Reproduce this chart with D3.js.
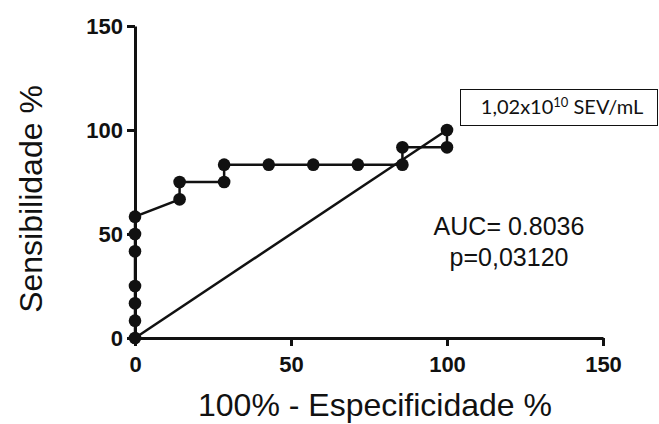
<!DOCTYPE html>
<html lang="en">
<head>
<meta charset="UTF-8">
<title>ROC curve</title>
<style>
    body { margin: 0; background: #fff; }
    svg text { font-family: "Liberation Sans", Arial, sans-serif; }
    .tick text { font-weight: bold; font-size: 22px; fill: #111; }
    .axis path, .axis line { stroke: #111; stroke-width: 3px; }
</style>
</head>
<body>
<div id="chart"></div>
<script src="https://d3js.org/d3.v7.min.js"></script>
<script>
    // ROC points: 100% - specificity (x) vs sensitivity (y)
    const specValues = [0, 0, 0, 0, 0, 0, 0, 14.29, 14.29, 28.57, 28.57, 42.86, 57.14, 71.43, 85.71, 85.71, 100, 100];
    const sensValues = [0, 8.33, 16.67, 25, 41.67, 50, 58.33, 66.67, 75, 75, 83.33, 83.33, 83.33, 83.33, 83.33, 91.67, 91.67, 100];
    const refLine = [[0, 0], [100, 100]];
    const xTicks = [0, 50, 100, 150];
    const yTicks = [0, 50, 100, 150];

    const points = specValues.map((v, i) => ({x: v, y: sensValues[i]}));

    const svg = d3.select("#chart").append("svg")
        .attr("width", 659)
        .attr("height", 424);

    const x = d3.scaleLinear().domain([0, 150]).range([135, 603]);
    const y = d3.scaleLinear().domain([0, 150]).range([338, 26]);

    // axes
    svg.append("g")
        .attr("class", "axis")
        .attr("transform", `translate(0,${y(0)})`)
        .call(d3.axisBottom(x).tickValues(xTicks).tickSize(8).tickSizeOuter(0).tickPadding(10).tickFormat(d3.format("d")));

    svg.append("g")
        .attr("class", "axis")
        .attr("transform", `translate(${x(0)},0)`)
        .call(d3.axisLeft(y).tickValues(yTicks).tickSize(8).tickSizeOuter(0).tickPadding(4).tickFormat(d3.format("d")));

    // diagonal reference
    svg.append("path")
        .datum(refLine)
        .attr("fill", "none")
        .attr("stroke", "#111")
        .attr("stroke-width", 2.5)
        .attr("d", d3.line().x(d => x(d[0])).y(d => y(d[1])));

    // ROC curve
    svg.append("path")
        .datum(points)
        .attr("fill", "none")
        .attr("stroke", "#111")
        .attr("stroke-width", 2.5)
        .attr("d", d3.line().x(d => x(d.x)).y(d => y(d.y)));

    svg.selectAll("circle.pt")
        .data(points)
        .enter().append("circle")
        .attr("class", "pt")
        .attr("cx", d => x(d.x))
        .attr("cy", d => y(d.y))
        .attr("r", 6.3)
        .attr("fill", "#111");

    // axis titles
    svg.append("text")
        .attr("x", 375)
        .attr("y", 416)
        .attr("text-anchor", "middle")
        .style("font-size", "32px")
        .attr("fill", "#111")
        .text("100% - Especificidade %");

    svg.append("text")
        .attr("transform", "translate(42,199) rotate(-90)")
        .attr("text-anchor", "middle")
        .style("font-size", "32px")
        .attr("fill", "#111")
        .text("Sensibilidade %");

    // stats
    svg.append("text")
        .attr("x", 509)
        .attr("y", 235)
        .attr("text-anchor", "middle")
        .style("font-size", "25px")
        .attr("fill", "#111")
        .text("AUC= 0.8036");

    svg.append("text")
        .attr("x", 509)
        .attr("y", 266)
        .attr("text-anchor", "middle")
        .style("font-size", "25px")
        .attr("fill", "#111")
        .text("p=0,03120");

    // concentration box
    svg.append("rect")
        .attr("x", 460.5)
        .attr("y", 89.5)
        .attr("width", 197)
        .attr("height", 36)
        .attr("fill", "#fff")
        .attr("stroke", "#111")
        .attr("stroke-width", 1);

    const lbl = svg.append("text")
        .attr("x", 562)
        .attr("y", 114)
        .attr("text-anchor", "middle")
        .style("font-family", "Lato, 'Open Sans', sans-serif")
        .style("font-size", "20px")
        .attr("fill", "#111");
    lbl.append("tspan").text("1,02x10");
    lbl.append("tspan").attr("dy", -7).style("font-size", "13px").text("10");
    lbl.append("tspan").attr("dy", 7).text(" SEV/mL");
</script>
</body>
</html>
